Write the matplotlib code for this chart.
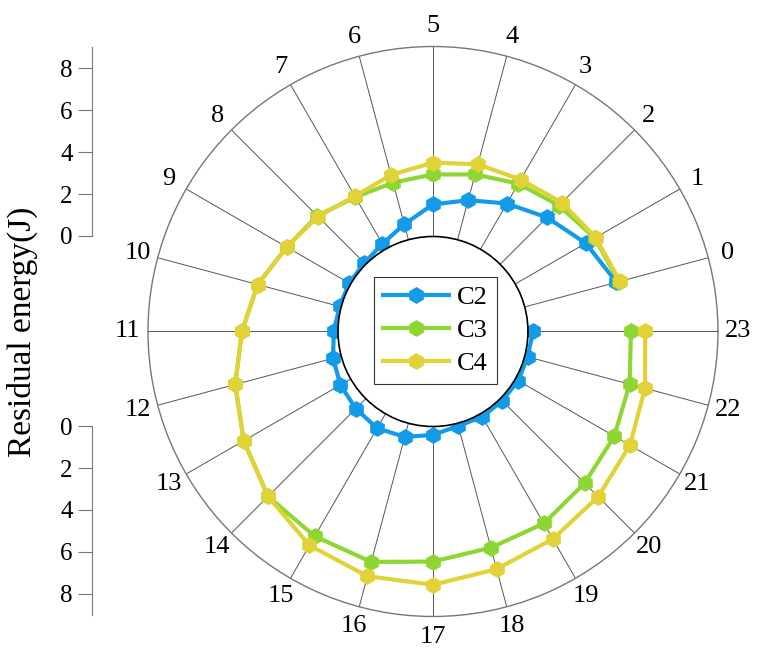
import matplotlib.pyplot as plt
import numpy as np

plt.rcParams['font.family'] = ['Liberation Serif', 'DejaVu Serif']

# time slots around the circle
slots = list(range(24))

# residual energy (J) per slot
c2 = [4.5, 3.86, 3.14, 2.5, 1.94, 1.52, 0.76, 0.29, 0.1, 0.08, 0.08, 0.2,
      0.4, 0.56, 0.67, 0.79, 0.67, 0.4, 0.13, 0.17, 0.14, 0.16, 0.14, 0.24]
c3 = [4.62, 4.35, 3.94, 3.59, 3.2, 2.94, 2.8, 2.85, 3.25, 3.5, 4.1, 4.55,
      5.2, 5.85, 6.55, 6.7, 6.8, 6.4, 6.1, 6.0, 5.66, 5.42, 5.14, 4.88]
c4 = [4.67, 4.4, 4.14, 3.81, 3.7, 3.5, 3.18, 2.9, 3.2, 3.5, 4.1, 4.55,
      5.2, 5.85, 6.55, 7.2, 7.5, 7.5, 7.15, 6.85, 6.57, 6.27, 5.9, 5.55]

series = [("C2", c2, '#139BE8'), ("C3", c3, '#8DD633'), ("C4", c4, '#E0D237')]

# slot k sits at (k+1)*15 degrees, counter-clockwise from the right
theta = np.deg2rad((np.array(slots) + 1) * 15)

fig = plt.figure(figsize=(7.6, 6.55), dpi=100)
ax = fig.add_axes([0.1947, 0.0588, 0.75, 0.8702], projection='polar')

for name, vals, col in series:
    ax.plot(theta, vals, color=col, lw=3, marker='h', ms=11, label=name)

ax.set_rlim(0, 9)
ax.set_rorigin(-4.5)
ax.set_yticks([])
ax.set_thetagrids(np.rad2deg(theta), [str(s) for s in slots])
ax.tick_params(axis='x', labelsize=19, pad=4)
ax.xaxis.grid(True, color='#555555', lw=0.7)
ax.spines['polar'].set_color('#777777')
ax.spines['polar'].set_linewidth(1.0)
ax.spines['inner'].set_color('black')
ax.spines['inner'].set_linewidth(1.2)

leg = ax.legend(loc='center', bbox_to_anchor=(0.505, 0.502), fontsize=19,
                handlelength=2.5, handletextpad=0.3, fancybox=False,
                framealpha=1, edgecolor='#333333', borderpad=0.35,
                labelspacing=0.35, borderaxespad=0)
leg.get_frame().set_linewidth(0.8)

# radial scale bars on the left: upward for the top half, downward for the bottom
ax_up = fig.add_axes([0.121, 0.6397, 0.001, 0.2885])
ax_up.set_ylim(0, 9)
ax_dn = fig.add_axes([0.121, 0.0611, 0.001, 0.2885])
ax_dn.set_ylim(9, 0)
for a in (ax_up, ax_dn):
    a.set_xticks([])
    a.set_yticks([0, 2, 4, 6, 8])
    a.patch.set_visible(False)
    for side in ('top', 'right', 'bottom'):
        a.spines[side].set_visible(False)
    a.spines['left'].set_color('#777777')
    a.tick_params(axis='y', length=10, color='#777777', labelsize=18, pad=4)

fig.text(0.03, 0.494, "Residual energy(J)", rotation=90, fontsize=24,
         ha='center', va='center')

plt.savefig('out.png', dpi=100)
